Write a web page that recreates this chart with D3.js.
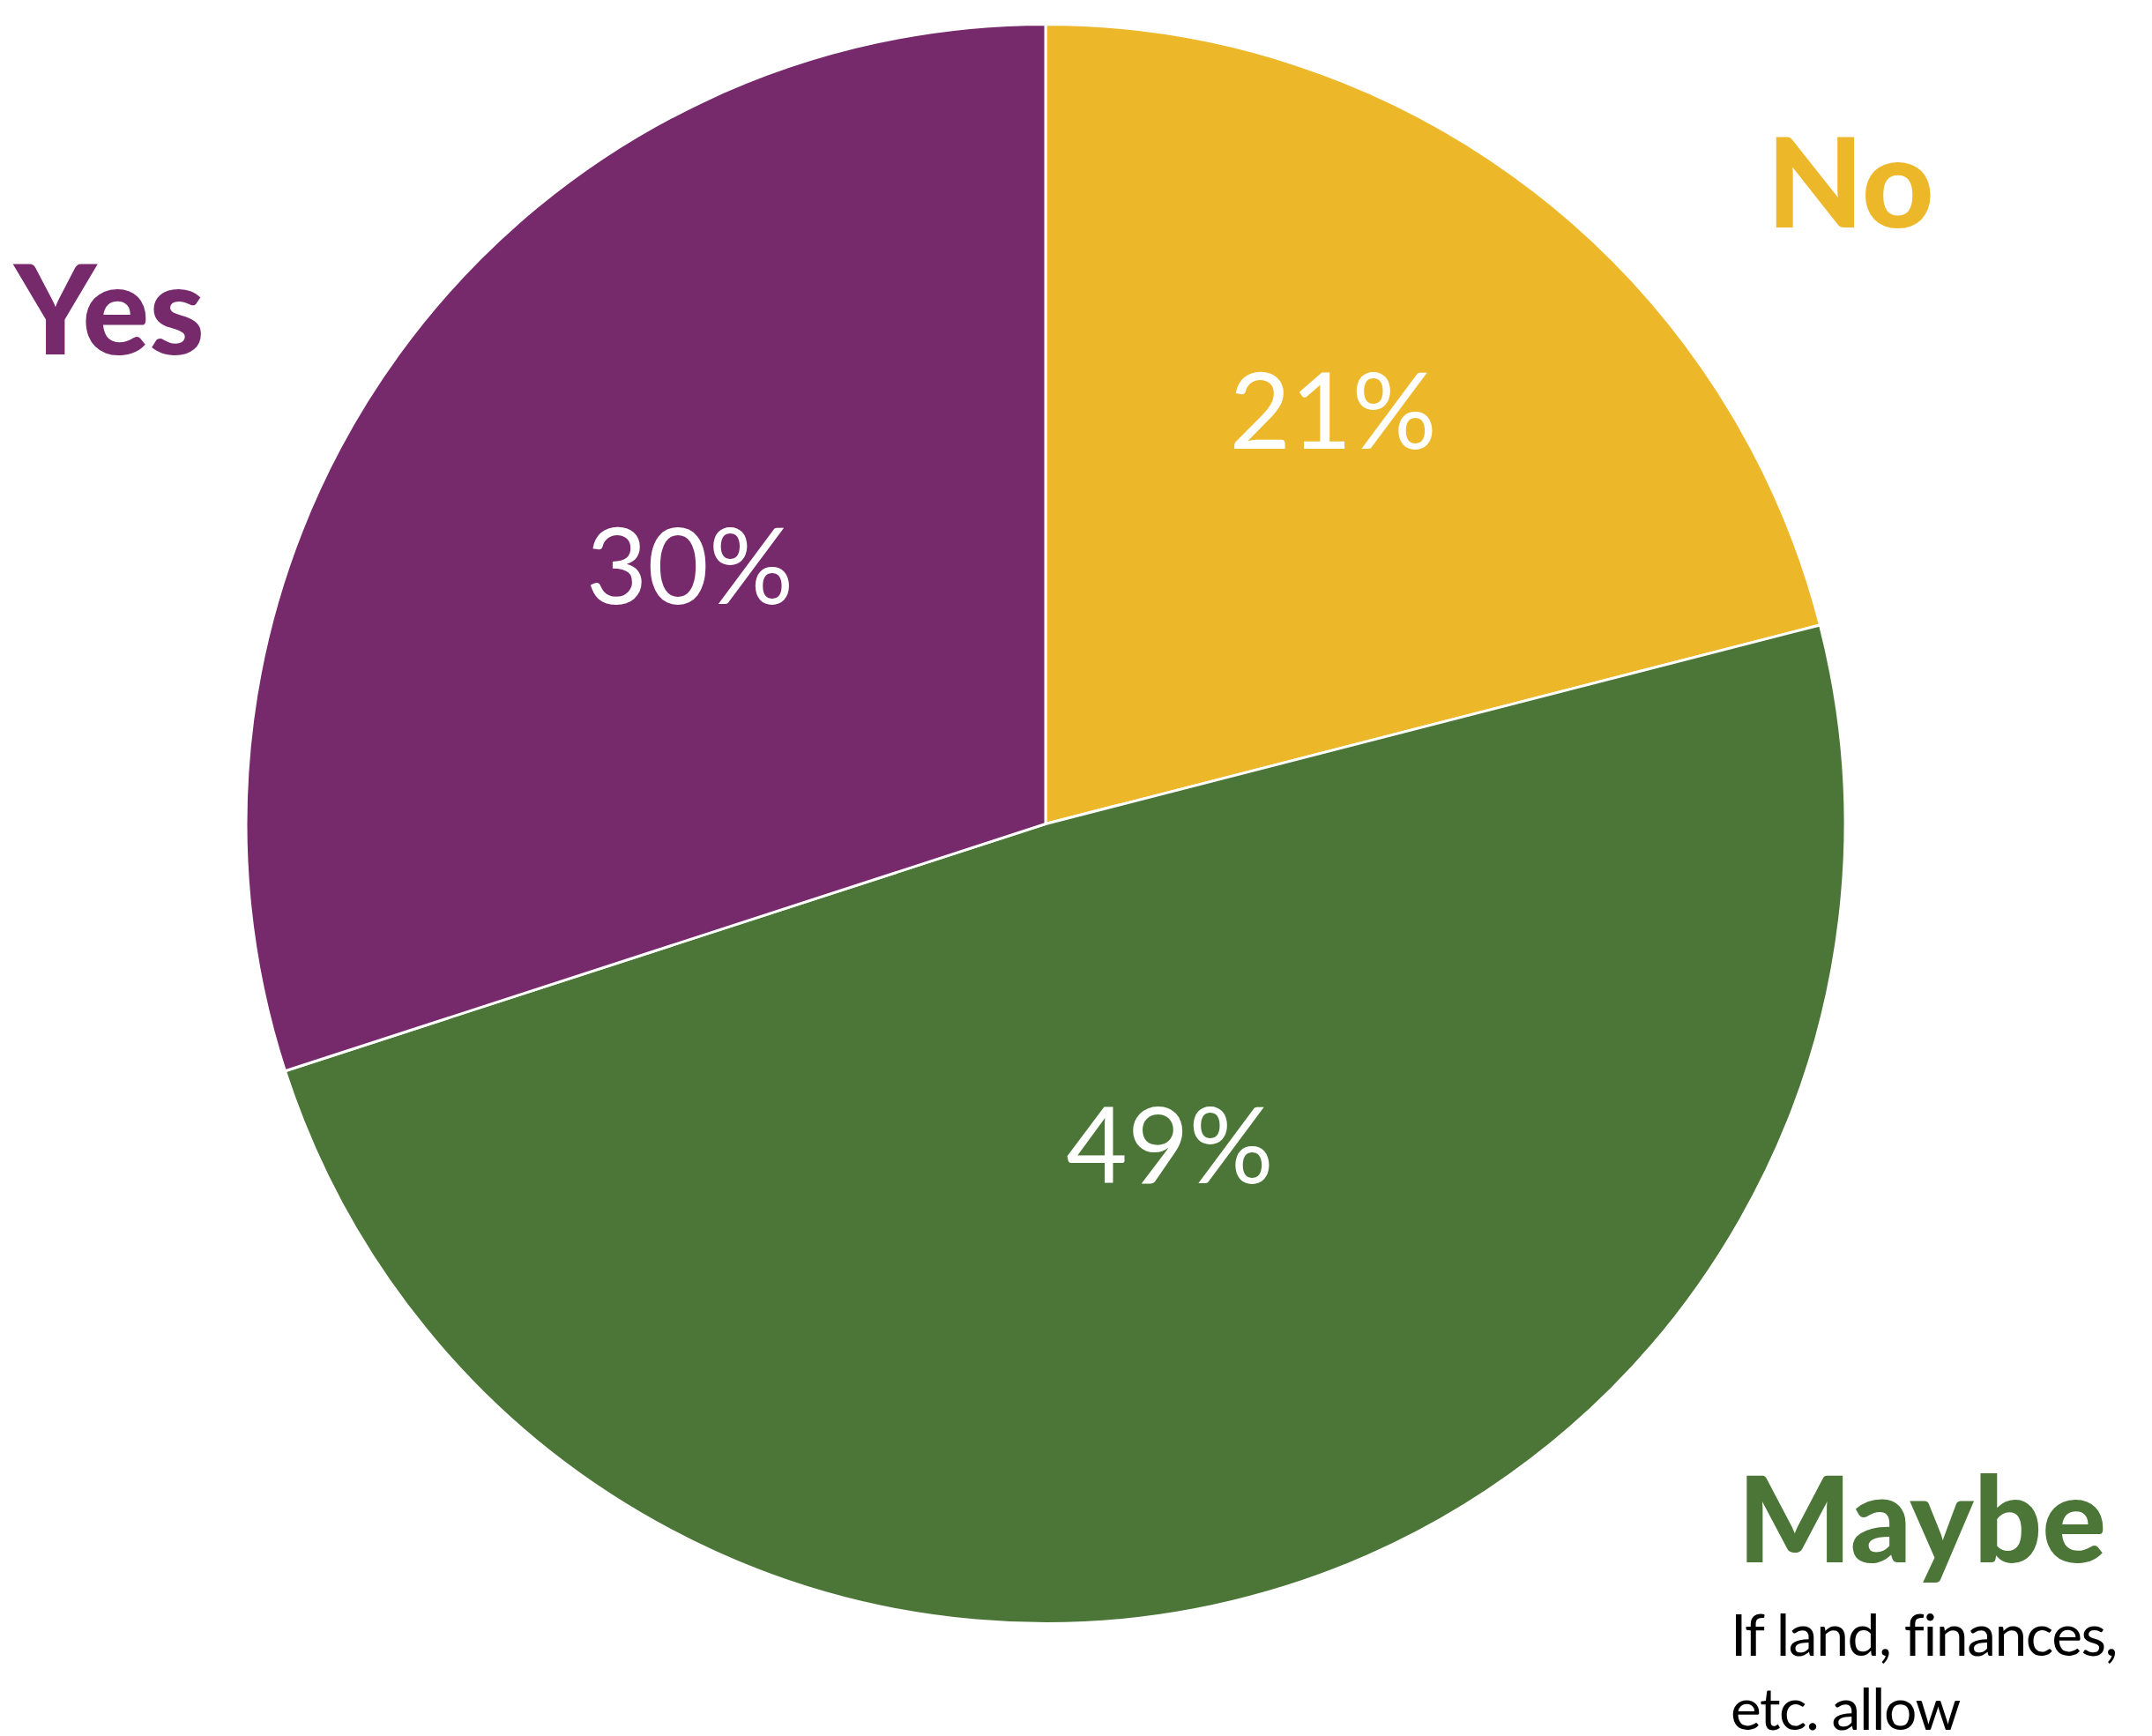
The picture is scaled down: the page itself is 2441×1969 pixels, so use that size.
<!DOCTYPE html>
<html>
<head>
<meta charset="utf-8">
<script src="https://cdn.jsdelivr.net/npm/d3@7"></script>
<style>
    html, body { margin: 0; padding: 0; background: #fff; }
    svg { display: block; }
</style>
</head>
<body>
<div id="chart"></div>
<script>
"use strict"

// slice data, clockwise from 12 o'clock
const categories = ["No", "Maybe", "Yes"];
const shares = [21, 49, 30];
const pctLabels = ["21%", "49%", "30%"];
const sliceColors = ["#edb72a", "#4c7637", "#762a6c"];
const subtitleLines = ["If land, finances,", "etc. allow"];

let PieView = function (targetID) {

    let self = {
        width: 2441,
        height: 1969,
        cx: 1186,
        cy: 934.5,
        radius: 907,
        svg: null,
        // label radius (fraction of r) and angle nudge (deg) per slice
        pctPos: [{ f: 0.63, da: -3 }, { f: 0.43, da: -5 }, { f: 0.55, da: 0 }],
        // category label anchors
        catPos: [{ x: 2004, y: 258 }, { x: 1971, y: 1772 }, { x: 16, y: 402 }],
        catSize: ["142px", "136px", "142px"]
    };

    init();

    function init() {
        self.svg = d3.select(targetID).append("svg")
            .attr("width", self.width)
            .attr("height", self.height);

        drawPie();
        drawLabels();
    }

    function drawPie() {
        let pie = d3.pie().sort(null).value(d => d);
        let arc = d3.arc().innerRadius(0).outerRadius(self.radius);

        let g = self.svg.append("g")
            .attr("transform", `translate(${self.cx},${self.cy})`);

        self.arcs = pie(shares);

        g.selectAll("path.slice")
            .data(self.arcs)
            .enter().append("path")
            .attr("class", "slice")
            .attr("d", arc)
            .style("fill", (d, i) => sliceColors[i])
            .style("stroke", "#fff")
            .style("stroke-width", 3)
            .style("stroke-linejoin", "miter");

        // percentage labels inside slices
        g.selectAll("text.pct")
            .data(self.arcs)
            .enter().append("text")
            .attr("class", "pct")
            .attr("transform", (d, i) => {
                let p = self.pctPos[i];
                let a = (d.startAngle + d.endAngle) / 2 + p.da * Math.PI / 180;
                let r = self.radius * p.f;
                return `translate(${r * Math.sin(a)},${-r * Math.cos(a) + 44})`;
            })
            .attr("text-anchor", "middle")
            .style("font-family", "Lato, 'Open Sans', sans-serif")
            .style("font-size", "120px")
            .style("fill", "#fff")
            .text((d, i) => pctLabels[i]);
    }

    function drawLabels() {
        self.svg.selectAll("text.cat")
            .data(categories)
            .enter().append("text")
            .attr("class", "cat")
            .attr("x", (d, i) => self.catPos[i].x)
            .attr("y", (d, i) => self.catPos[i].y)
            .style("font-family", "Lato, 'Open Sans', sans-serif")
            .style("font-weight", 900)
            .style("font-size", (d, i) => self.catSize[i])
            .style("fill", (d, i) => sliceColors[i])
            .text(d => d);

        // subtitle under "Maybe"
        self.svg.selectAll("text.sub")
            .data(subtitleLines)
            .enter().append("text")
            .attr("class", "sub")
            .attr("x", 1963)
            .attr("y", (d, i) => 1878 + i * 84)
            .style("font-family", "Lato, 'Open Sans', sans-serif")
            .style("font-size", "66px")
            .style("letter-spacing", "-1.5px")
            .style("font-variant-ligatures", "none")
            .style("fill", "#000")
            .text(d => d);
    }

    return { self };
}

PieView("#chart");
</script>
</body>
</html>
